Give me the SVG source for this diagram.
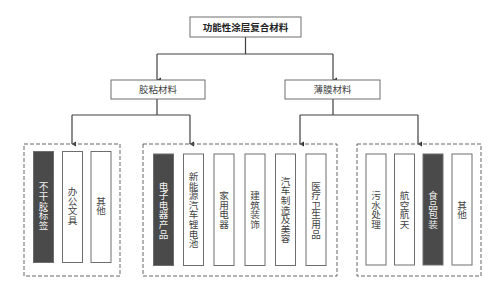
<svg xmlns="http://www.w3.org/2000/svg" width="498" height="288" viewBox="0 0 498 288">
<style>
.bg{fill:#fff}
.box{fill:#fff;stroke:#6e6e6e;stroke-width:1}
.dark{fill:#4a4a4a;stroke:#6e6e6e;stroke-width:1}
.grp{fill:none;stroke:#666;stroke-width:1;stroke-dasharray:4 2}
.conn{fill:none;stroke:#404040;stroke-width:1.2}
.t{font-family:"Noto Sans CJK SC","Noto Sans CJK JP",sans-serif;font-size:9.5px;fill:#444;text-anchor:middle}
.tb{font-weight:bold;fill:#222}
.v{font-family:"Noto Sans CJK SC","Noto Sans CJK JP",sans-serif;font-size:9.6px;fill:#444;text-anchor:middle;writing-mode:vertical-rl}
.vw{fill:#f2f2f2}
</style>
<defs>
<marker id="arr" markerWidth="6" markerHeight="6" refX="3" refY="5" orient="auto" markerUnits="userSpaceOnUse" viewBox="0 0 6 6">
<path d="M0.5 1 L5.5 1 L3 5.5 Z" fill="#303030"/>
</marker>
</defs>
<rect class="bg" x="0" y="0" width="498" height="288"/>
<g id="connectors">
<path class="conn" d="M245.5 37 V54 M157 54 H333"/>
<path class="conn" d="M157 54 V80" marker-end="url(#arr)"/>
<path class="conn" d="M333 54 V80" marker-end="url(#arr)"/>
<path class="conn" d="M157 99 V115 M72 115 H190"/>
<path class="conn" d="M72 115 V144" marker-end="url(#arr)"/>
<path class="conn" d="M190 115 V144" marker-end="url(#arr)"/>
<path class="conn" d="M333 99 V115 M300 115 H418"/>
<path class="conn" d="M300 115 V144" marker-end="url(#arr)"/>
<path class="conn" d="M418 115 V144" marker-end="url(#arr)"/>
</g>
<g id="root"><rect class="box" x="190" y="17" width="111" height="20"/><text class="t tb" x="245.5" y="30.5">功能性涂层复合材料</text></g>
<g id="adhesive"><rect class="box" x="111" y="80" width="94" height="19"/><text class="t" x="158" y="93">胶粘材料</text></g>
<g id="film"><rect class="box" x="285" y="80" width="95" height="19"/><text class="t" x="332.5" y="93">薄膜材料</text></g>
<g id="group1"><rect class="grp" x="24" y="144" width="96" height="132"/></g>
<g id="group2"><rect class="grp" x="143" y="144" width="194" height="132"/></g>
<g id="group3"><rect class="grp" x="357" y="144" width="124" height="132"/></g>
<g id="n1"><rect class="dark" x="33.5" y="151.5" width="20" height="111"/><text class="v vw" x="43.5" y="206">不干胶标签</text></g>
<g id="n2"><rect class="box" x="62.5" y="151.5" width="20" height="111"/><text class="v" x="72.5" y="206">办公文具</text></g>
<g id="n3"><rect class="box" x="91" y="151.5" width="20" height="111"/><text class="v" x="101" y="206">其他</text></g>
<g id="n4"><rect class="dark" x="153.5" y="154" width="20" height="111.5"/><text class="v vw" x="163.5" y="210">电子电器产品</text></g>
<g id="n5"><rect class="box" x="183.5" y="154" width="20" height="111.5"/><text class="v" x="193.5" y="210">新能源汽车锂电池</text></g>
<g id="n6"><rect class="box" x="214" y="154" width="20" height="111.5"/><text class="v" x="224" y="210">家用电器</text></g>
<g id="n7"><rect class="box" x="245" y="154" width="20" height="111.5"/><text class="v" x="255" y="210">建筑装饰</text></g>
<g id="n8"><rect class="box" x="275.5" y="154" width="20" height="111.5"/><text class="v" x="285.5" y="210">汽车制造及美容</text></g>
<g id="n9"><rect class="box" x="306" y="154" width="20" height="111.5"/><text class="v" x="316" y="210">医疗卫生用品</text></g>
<g id="n10"><rect class="box" x="366" y="154" width="20" height="111"/><text class="v" x="376" y="210">污水处理</text></g>
<g id="n11"><rect class="box" x="394.5" y="154" width="20" height="111"/><text class="v" x="404.5" y="210">航空航天</text></g>
<g id="n12"><rect class="dark" x="423" y="154" width="20" height="111"/><text class="v vw" x="433" y="210">食品包装</text></g>
<g id="n13"><rect class="box" x="452" y="154" width="20" height="111"/><text class="v" x="462" y="210">其他</text></g>
</svg>
